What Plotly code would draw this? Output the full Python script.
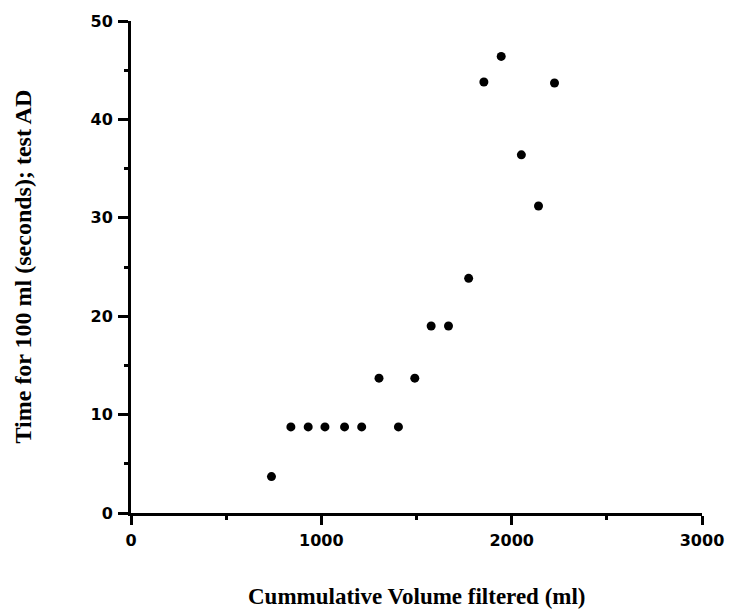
import plotly.graph_objects as go

# Data
cumulative_volume_ml = [738, 840, 931, 1019, 1122, 1212, 1303, 1405, 1491,
                        1577, 1668, 1774, 1854, 1945, 2051, 2141, 2225]
time_per_100ml_s = [3.7, 8.75, 8.75, 8.75, 8.75, 8.75, 13.7, 8.75, 13.7,
                    19.0, 19.0, 23.85, 43.8, 46.4, 36.4, 31.2, 43.7]

x_ticks = [0, 1000, 2000, 3000]
y_ticks = [0, 10, 20, 30, 40, 50]

x_title = "Cummulative Volume filtered (ml)"
y_title = "Time for 100 ml (seconds); test AD"

fig = go.Figure()
fig.add_trace(go.Scatter(
    x=cumulative_volume_ml, y=time_per_100ml_s, mode="markers",
    marker=dict(color="black", size=9, symbol="circle"),
    showlegend=False,
))

tick_font = dict(family="DejaVu Sans", size=16, color="black", weight="bold")
x_title_font = dict(family="Liberation Serif", size=23, color="black", weight="bold")
y_title_font = dict(family="Liberation Serif", size=24, color="black", weight="bold")

fig.update_layout(
    width=736, height=614,
    margin=dict(l=131, r=28, t=16, b=101),
    paper_bgcolor="white", plot_bgcolor="white",
    xaxis=dict(
        range=[0, 3000], tickvals=x_ticks, ticktext=[str(v) for v in x_ticks],
        showgrid=False, zeroline=False, showline=True, linecolor="black", linewidth=3,
        ticks="outside", ticklen=9, tickwidth=3, tickcolor="black",
        tickfont=tick_font, ticklabelstandoff=2,
        minor=dict(tickvals=[500, 1500, 2500], ticks="outside", ticklen=4,
                   tickwidth=3, tickcolor="black"),
    ),
    yaxis=dict(
        range=[0, 50], tickvals=y_ticks, ticktext=[str(v) for v in y_ticks],
        showgrid=False, zeroline=False, showline=True, linecolor="black", linewidth=3,
        ticks="outside", ticklen=10, tickwidth=3, tickcolor="black",
        tickfont=tick_font, ticklabelstandoff=2,
        minor=dict(tickvals=[5, 15, 25, 35, 45], ticks="outside", ticklen=4,
                   tickwidth=3, tickcolor="black"),
    ),
    annotations=[
        dict(text=x_title, xref="paper", yref="paper", x=0.5, y=-0.169,
             xanchor="center", yanchor="middle", showarrow=False, font=x_title_font),
        dict(text=y_title, xref="paper", yref="paper", x=-0.19, y=0.5,
             xanchor="center", yanchor="middle", textangle=-90, showarrow=False,
             font=y_title_font),
    ],
)

fig.write_html("out.html")
